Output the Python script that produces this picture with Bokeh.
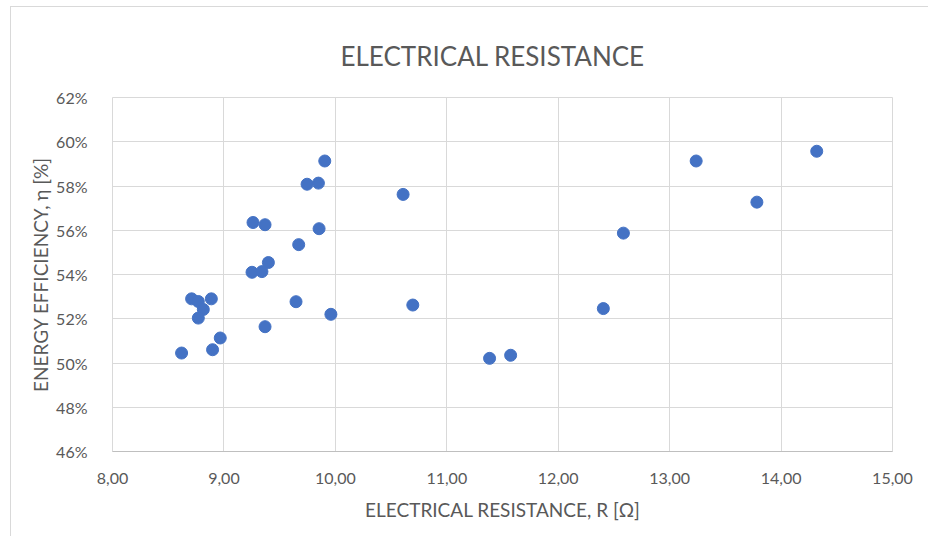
from bokeh.plotting import figure
from bokeh.models import FixedTicker, NumeralTickFormatter, CustomJSTickFormatter, ColumnDataSource
from bokeh.embed import file_html
from bokeh.resources import INLINE

resistance = [9.905, 9.746, 9.848, 9.261, 9.369, 9.854, 9.671, 9.399, 9.252, 9.341,
              8.710, 8.770, 8.887, 8.815, 8.770, 9.647, 9.960, 9.369, 8.967, 8.898,
              8.620, 10.608, 10.695, 11.384, 11.573, 12.405, 12.585, 13.238, 14.320, 13.783]
efficiency_pct = [59.13, 58.08, 58.13, 56.35, 56.25, 56.07, 55.35, 54.54, 54.10, 54.13,
                  52.90, 52.78, 52.90, 52.42, 52.03, 52.77, 52.20, 51.64, 51.13, 50.60,
                  50.45, 57.62, 52.62, 50.21, 50.35, 52.46, 55.87, 59.13, 59.57, 57.27]
x_ticks = [8, 9, 10, 11, 12, 13, 14, 15]
y_ticks_pct = [46, 48, 50, 52, 54, 56, 58, 60, 62]

TXT = "#595959"
FONT = "Lato"

p = figure(width=918, height=530, output_backend="svg", toolbar_location=None,
           x_range=(8, 15), y_range=(0.46, 0.62),
           min_border_left=101, min_border_right=37, min_border_top=90, min_border_bottom=86)
p.styles = {"border-left": "1px solid #d9d9d9", "border-top": "1px solid #d9d9d9",
            "margin-left": "10px", "margin-top": "6px"}

p.title.text = "ELECTRICAL RESISTANCE"
p.title.align = "left"
p.title.offset = 228
p.title.standoff = 52
p.title.text_font = FONT
p.title.text_font_size = "26px"
p.title.text_font_style = "normal"
p.title.text_color = TXT

src = ColumnDataSource(dict(x=resistance, y=[v / 100 for v in efficiency_pct]))
p.scatter("x", "y", source=src, size=12, fill_color="#4472C4", line_color="#4472C4")

p.outline_line_color = "#d9d9d9"
for g in (p.xgrid, p.ygrid):
    g.grid_line_color = "#d9d9d9"
    g.grid_line_width = 1

p.xaxis.ticker = FixedTicker(ticks=x_ticks)
p.yaxis.ticker = FixedTicker(ticks=[t / 100 for t in y_ticks_pct])
p.xgrid.ticker = p.xaxis.ticker
p.ygrid.ticker = p.yaxis.ticker
p.yaxis.formatter = NumeralTickFormatter(format="0%")
p.xaxis.formatter = CustomJSTickFormatter(code="return tick.toFixed(2).replace('.', ',');")

for ax in (p.xaxis, p.yaxis):
    ax.major_tick_line_color = None
    ax.minor_tick_line_color = None
    ax.major_label_text_font = FONT
    ax.major_label_text_font_size = "16px"
    ax.major_label_text_color = TXT
    ax.axis_label_text_font = FONT
    ax.axis_label_text_font_size = "19px"
    ax.axis_label_text_font_style = "normal"
    ax.axis_label_text_color = TXT
p.yaxis.axis_line_color = None
p.xaxis.axis_line_color = "#bfbfbf"
p.yaxis.major_label_standoff = 19
p.xaxis.major_label_standoff = 15

p.yaxis.axis_label = "ENERGY EFFICIENCY, η [%]"
p.yaxis.axis_label_standoff = 1
p.xaxis.axis_label = "ELECTRICAL RESISTANCE, R [Ω]"
p.xaxis.axis_label_standoff = 11

open("out.html", "w").write(file_html(p, INLINE))
